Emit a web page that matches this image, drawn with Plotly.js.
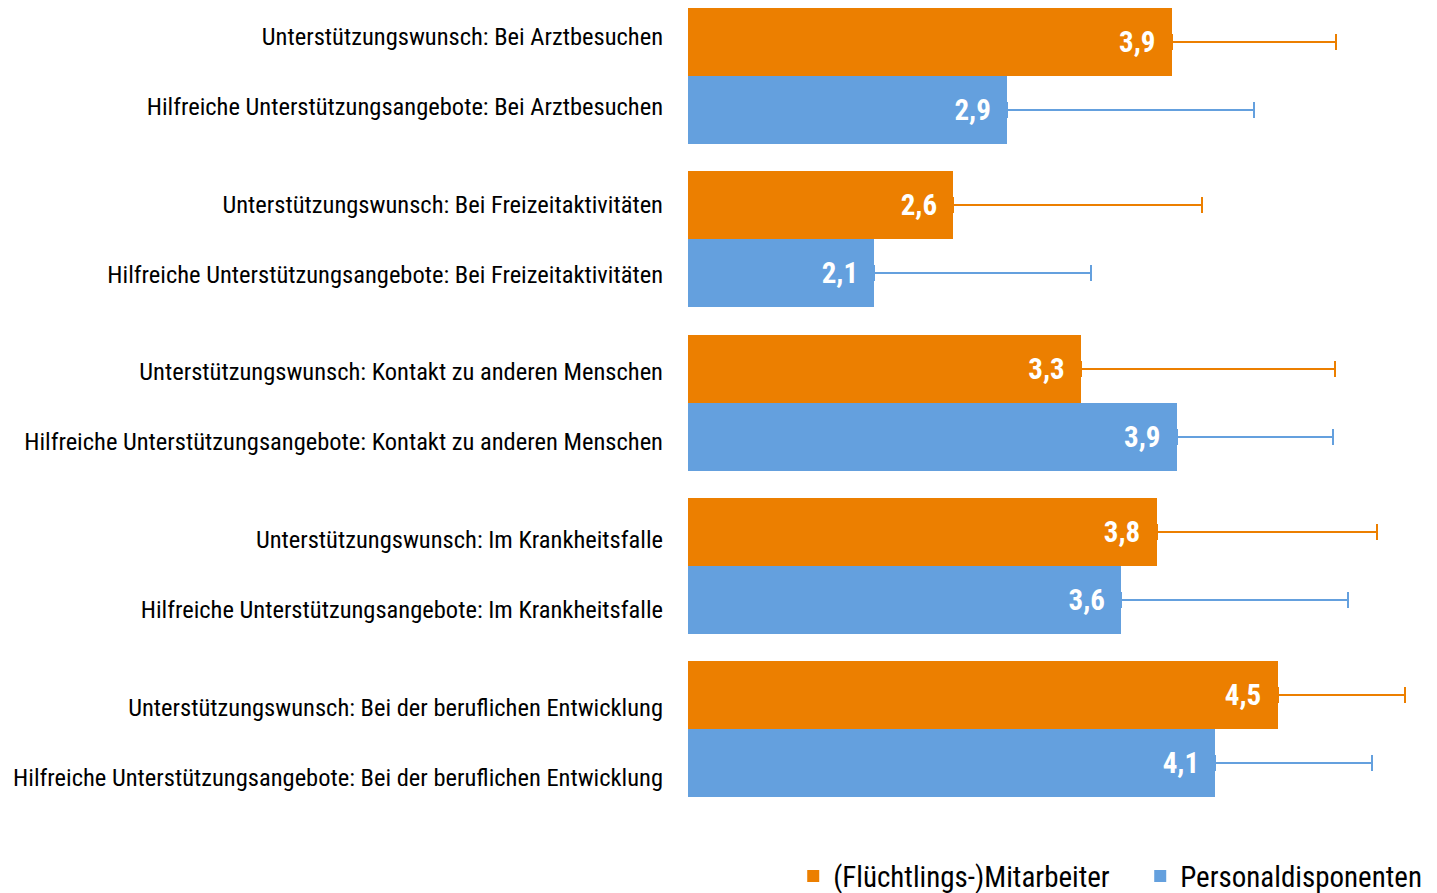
<!DOCTYPE html>
<html>
<head>
<meta charset="utf-8">
<script src="https://cdn.plot.ly/plotly-3.0.1.min.js"></script>
<style>html,body{margin:0;padding:0;background:#fff;}#chart{width:1437px;height:893px;}</style>
</head>
<body>
<div id="chart"></div>
<script>
// Categories (pairs, top to bottom)
var wishLabels = [
  "Unterstützungswunsch: Bei Arztbesuchen",
  "Unterstützungswunsch: Bei Freizeitaktivitäten",
  "Unterstützungswunsch: Kontakt zu anderen Menschen",
  "Unterstützungswunsch: Im Krankheitsfalle",
  "Unterstützungswunsch: Bei der beruflichen Entwicklung"
];
var offerLabels = [
  "Hilfreiche Unterstützungsangebote: Bei Arztbesuchen",
  "Hilfreiche Unterstützungsangebote: Bei Freizeitaktivitäten",
  "Hilfreiche Unterstützungsangebote: Kontakt zu anderen Menschen",
  "Hilfreiche Unterstützungsangebote: Im Krankheitsfalle",
  "Hilfreiche Unterstützungsangebote: Bei der beruflichen Entwicklung"
];
// Series values (means) and error (upper) lengths
var mitarbeiterValues = [3.88, 2.58, 3.34, 3.79, 4.51];
var mitarbeiterErrors = [0.98, 1.48, 1.51, 1.31, 0.76];
var dispoValues = [2.90, 2.11, 3.91, 3.58, 4.14];
var dispoErrors = [1.47, 1.29, 0.93, 1.35, 0.93];

var seriesNames = ["(Flüchtlings-)Mitarbeiter", "Personaldisponenten"];

var ORANGE = "#EC7F00", BLUE = "#64A0DE";
var FONT = "'Roboto Condensed', 'Arial Narrow', sans-serif";

var pitch = 2.4;
var posW = wishLabels.map(function(_, i){ return i * pitch; });
var posO = offerLabels.map(function(_, i){ return i * pitch + 1; });

function zeros(a){ return a.map(function(){ return 0; }); }

var common = {
  type: "bar", orientation: "h", width: 1,
  textposition: "inside", insidetextanchor: "end",
  texttemplate: "<b>%{x:.1f}</b>&nbsp;&nbsp;",
  textfont: {family: FONT, size: 29, color: "#ffffff"},
  constraintext: "none", cliponaxis: false, hoverinfo: "skip"
};

var t1 = Object.assign({}, common, {
  name: seriesNames[0], x: mitarbeiterValues, y: posW,
  marker: {color: ORANGE},
  error_x: {type: "data", symmetric: false, array: mitarbeiterErrors, arrayminus: zeros(mitarbeiterErrors),
            color: ORANGE, thickness: 2, width: 8}
});
var t2 = Object.assign({}, common, {
  name: seriesNames[1], x: dispoValues, y: posO,
  marker: {color: BLUE},
  error_x: {type: "data", symmetric: false, array: dispoErrors, arrayminus: zeros(dispoErrors),
            color: BLUE, thickness: 2, width: 8}
});
// empty helper trace so the label axis is drawn
var t3 = {type: "scatter", x: [], y: [], yaxis: "y2", showlegend: false, hoverinfo: "skip"};

var tickvals = [], ticktext = [];
for (var i = 0; i < wishLabels.length; i++) {
  tickvals.push(posW[i], posO[i]);
  ticktext.push(wishLabels[i], offerLabels[i]);
}

var layout = {
  width: 1437, height: 893,
  margin: {l: 688, r: 10, t: 8, b: 89},
  separators: ",.",
  paper_bgcolor: "#ffffff", plot_bgcolor: "#ffffff",
  font: {family: FONT, color: "#000000"},
  showlegend: true,
  legend: {orientation: "h", xref: "container", yref: "container",
           x: 0.552, xanchor: "left", y: 0.019, yanchor: "middle",
           entrywidth: 302, entrywidthmode: "pixels",
           font: {family: FONT, size: 29, color: "#000"}, traceorder: "normal"},
  xaxis: {range: [1, 5.4], showgrid: false, zeroline: false, showticklabels: false,
          showline: false, ticks: "", fixedrange: true},
  yaxis: {range: [11.2, -0.5], showticklabels: false,
          showgrid: false, zeroline: false, showline: false, ticks: "", fixedrange: true},
  yaxis2: {overlaying: "y", anchor: "x", side: "left",
           range: [10.978, -0.403], tickvals: tickvals, ticktext: ticktext,
           tickfont: {family: FONT, size: 24.5, color: "#000"},
           showgrid: false, zeroline: false, showline: false, ticks: "",
           ticklabelstandoff: 24, fixedrange: true},
  bargap: 0
};

Plotly.newPlot("chart", [t1, t2, t3], layout, {displayModeBar: false, staticPlot: true});
</script>
</body>
</html>
